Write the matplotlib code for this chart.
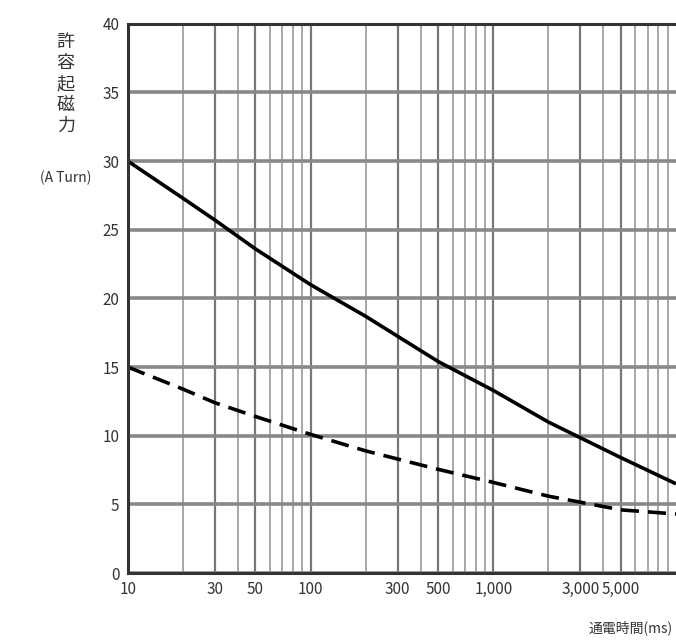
import matplotlib
matplotlib.use("Agg")
import matplotlib.pyplot as plt
from matplotlib.ticker import FixedLocator, NullFormatter

plt.rcParams['font.family'] = ['Noto Sans CJK JP', 'DejaVu Sans']

# energizing time (ms) and magnetomotive force (A Turn)
times = [10, 20, 30, 50, 100, 200, 500, 1000, 2000, 5000, 10000]
solid_vals = [30.0, 27.3, 25.7, 23.6, 21.0, 18.7, 15.4, 13.3, 11.0, 8.4, 6.5]
dashed_vals = [15.0, 13.4, 12.4, 11.4, 10.1, 8.9, 7.55, 6.6, 5.6, 4.6, 4.3]

x_ticks = [10, 30, 50, 100, 300, 500, 1000, 3000, 5000]
x_tick_labels = ['10', '30', '50', '100', '300', '500', '1,000', '3,000', '5,000']
y_ticks = [0, 5, 10, 15, 20, 25, 30, 35, 40]

fig = plt.figure(figsize=(6.76, 6.41), dpi=100)
ax = fig.add_axes([0.189, 0.106, 0.811, 0.857])

ax.set_xscale('log')
ax.set_xlim(10, 10000)
ax.set_ylim(0, 40)

# minor vertical grid
minor = [m * 10 ** d for d in range(1, 4) for m in range(2, 10)]
ax.xaxis.set_minor_locator(FixedLocator(minor))
ax.xaxis.set_minor_formatter(NullFormatter())
ax.grid(True, which='minor', axis='x', color='#a0a0a0', lw=1.3)
ax.grid(True, which='major', axis='x', color='#777777', lw=1.6)
ax.grid(True, which='major', axis='y', color='#888888', lw=2.6)

ax.plot(times, solid_vals, color='black', lw=2.6, solid_capstyle='butt')
ax.plot(times, dashed_vals, color='black', lw=2.6, dashes=(5, 2.5))

ax.xaxis.set_major_locator(FixedLocator(x_ticks))
ax.set_xticklabels(x_tick_labels)
ax.set_yticks(y_ticks)
ax.tick_params(axis='both', which='both', length=0, labelsize=11, colors='#333333')
ax.tick_params(axis='y', pad=6)
ax.tick_params(axis='x', pad=6)

for side in ['left', 'bottom', 'top']:
    ax.spines[side].set_color('#333333')
    ax.spines[side].set_linewidth(2.2)
ax.spines['right'].set_visible(False)

# y axis label (vertical Japanese + unit)
fig.text(0.097, 0.948, '許\n容\n起\n磁\n力', ha='center', va='top',
         fontsize=13, linespacing=1.2, color='#333333')
fig.text(0.097, 0.722, '(A Turn)', ha='center', va='center',
         fontsize=10, color='#333333')

fig.text(0.995, 0.02, '通電時間(ms)', ha='right', va='center',
         fontsize=10, color='#333333')

fig.savefig('out.png', dpi=100)
